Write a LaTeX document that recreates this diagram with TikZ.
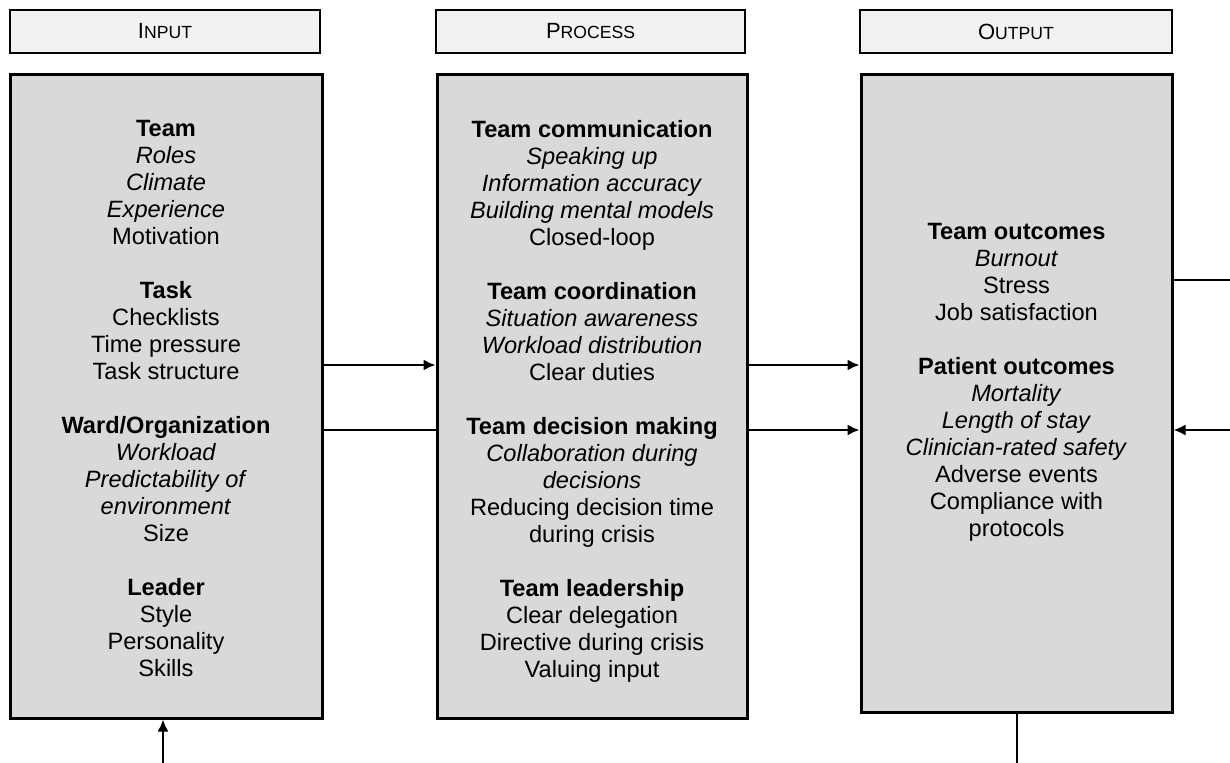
\documentclass[tikz,border=0pt]{standalone}
\usepackage{fontspec}
\setmainfont{Liberation Sans}
\usetikzlibrary{arrows.meta}
\definecolor{boxgray}{HTML}{D9D9D9}
\definecolor{headgray}{HTML}{F2F2F2}
\newcommand{\hdrtxt}[2]{{\fontsize{11}{12}\selectfont #1}{\fontsize{8.8}{10}\selectfont #2}}
\begin{document}
\begin{tikzpicture}[x=0.5pt,y=-0.5pt,
  mainbox/.style={draw=black, line width=1.5pt, fill=boxgray, inner sep=0pt, outer sep=0.75pt},
  headbox/.style={draw=black, line width=1pt, fill=headgray, inner sep=0pt, outer sep=0.5pt, minimum height=21.5pt},
  txt/.style={align=center, inner sep=0pt, font=\fontsize{11.8}{13.5}\selectfont, anchor=north},
  conn/.style={line width=1pt},
  arr/.style={conn, -{Latex[length=6pt,width=5.5pt]}}]
\useasboundingbox (0,0) rectangle (1230,763);

% headers
\node[headbox, minimum width=155pt] (hin) at (165,31.5) {\hdrtxt{I}{NPUT}};
\node[headbox, minimum width=154.5pt] (hproc) at (590.5,31.5) {\hdrtxt{P}{ROCESS}};
\node[headbox, minimum width=156pt] (hout) at (1016,31.5) {\hdrtxt{O}{UTPUT}};

% main boxes
\node[mainbox, minimum width=156pt, minimum height=321.5pt] (inbox) at (166,396.5) {};
\node[mainbox, minimum width=155pt, minimum height=321.5pt] (procbox) at (592,396.5) {};
\node[mainbox, minimum width=155.5pt, minimum height=318.5pt] (outbox) at (1016.5,393.5) {};

% texts
\node[txt] (intxt) at (166,120) {\textbf{Team}\\ \textit{Roles}\\ \textit{Climate}\\ \textit{Experience}\\ Motivation\\[13.5pt]
\textbf{Task}\\ Checklists\\ Time pressure\\ Task structure\\[13.5pt]
\textbf{Ward/Organization}\\ \textit{Workload}\\ \textit{Predictability of}\\ \textit{environment}\\ Size\\[13.5pt]
\textbf{Leader}\\ Style\\ Personality\\ Skills};

\node[txt] (proctxt) at (592,120) {\textbf{Team communication}\\ \textit{Speaking up}\\ \textit{Information accuracy}\\ \textit{Building mental models}\\ Closed-loop\\[13.5pt]
\textbf{Team coordination}\\ \textit{Situation awareness}\\ \textit{Workload distribution}\\ Clear duties\\[13.5pt]
\textbf{Team decision making}\\ \textit{Collaboration during}\\ \textit{decisions}\\ Reducing decision time\\ during crisis\\[13.5pt]
\textbf{Team leadership}\\ Clear delegation\\ Directive during crisis\\ Valuing input};

\node[txt] (outtxt) at (1016.5,223) {\textbf{Team outcomes}\\ \textit{Burnout}\\ Stress\\ Job satisfaction\\[13.5pt]
\textbf{Patient outcomes}\\ \textit{Mortality}\\ \textit{Length of stay}\\ \textit{Clinician-rated safety}\\ Adverse events\\ Compliance with\\ protocols};

% connectors
\coordinate (ya) at (0,365);
\coordinate (yb) at (0,430);
\coordinate (rtop) at (1230,280);
\coordinate (rbot) at (1230,430);
\coordinate (bin) at (163,763);
\coordinate (bout) at (1017,763);
\draw[arr] (inbox.east |- ya) -- (procbox.west |- ya);
\draw[conn] (inbox.east |- yb) -- (procbox.west |- yb);
\draw[arr] (procbox.east |- ya) -- (outbox.west |- ya);
\draw[arr] (procbox.east |- yb) -- (outbox.west |- yb);
\draw[conn] (outbox.east |- rtop) -- (rtop);
\draw[arr] (rbot) -- (outbox.east |- rbot);
\draw[arr] (bin) -- (bin |- inbox.south);
\draw[conn] (bout |- outbox.south) -- (bout);
\end{tikzpicture}
\end{document}
